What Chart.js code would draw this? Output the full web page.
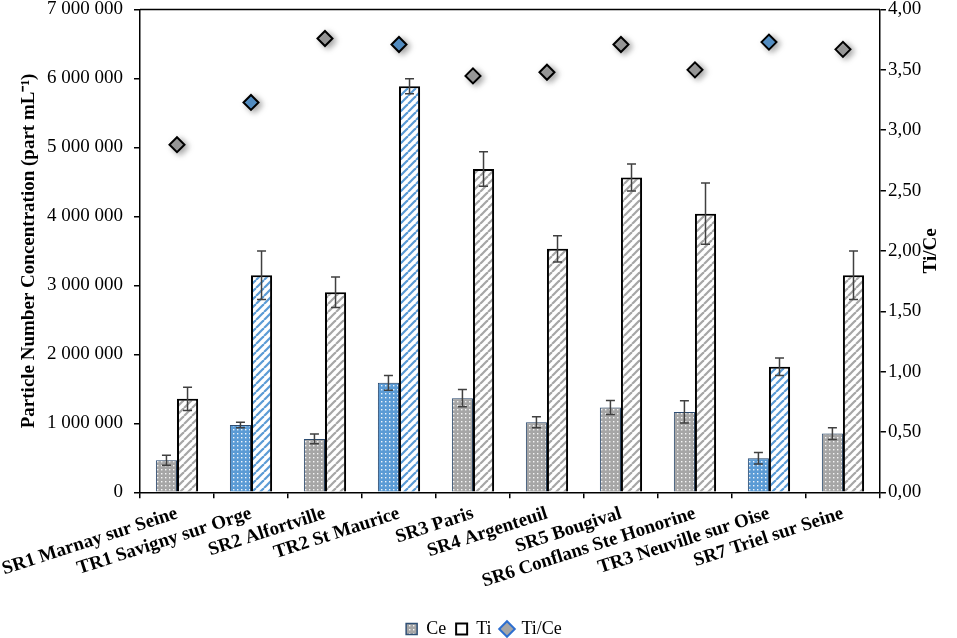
<!DOCTYPE html>
<html>
<head>
<meta charset="utf-8">
<script src="https://cdn.jsdelivr.net/npm/chart.js@4.4.0/dist/chart.umd.min.js"></script>
<style>
html, body { margin: 0; padding: 0; background: #fff; }
#wrap { width: 957px; height: 638px; }
</style>
</head>
<body>
<div id="wrap"><canvas id="c"></canvas></div>
<script>
// sampling sites
const sites = ['SR1 Marnay sur Seine', 'TR1 Savigny sur Orge', 'SR2 Alfortville', 'TR2 St Maurice',
    'SR3 Paris', 'SR4 Argenteuil', 'SR5 Bougival', 'SR6 Conflans Ste Honorine',
    'TR3 Neuville sur Oise', 'SR7 Triel sur Seine'];

// particle number concentrations (part mL-1) and their error bars
const ceValues = [465000, 977000, 774000, 1587000, 1365000, 1017000, 1230000, 1166000, 494000, 852000];
const ceErrors = [73000, 40000, 70000, 106000, 126000, 80000, 100000, 160000, 85000, 85000];
const tiValues = [1355000, 3147000, 2900000, 5886000, 4686000, 3530000, 4565000, 4040000, 1820000, 3147000];
const tiErrors = [170000, 350000, 220000, 109000, 250000, 190000, 195000, 443000, 128000, 350000];

// Ti/Ce ratio (right axis)
const ratioValues = [2.88, 3.23, 3.76, 3.71, 3.45, 3.48, 3.71, 3.50, 3.73, 3.67];

const GRAY = '#a6a6a6';
const BLUE = '#5b9bd5';
const FONT = "'Liberation Serif','Times New Roman',serif";

Chart.defaults.color = '#000';
Chart.defaults.font.family = FONT;

function dotPattern(bg) {
    const c = document.createElement('canvas');
    c.width = 4; c.height = 4;
    const g = c.getContext('2d');
    g.fillStyle = bg;
    g.fillRect(0, 0, 4, 4);
    g.fillStyle = 'rgba(255,255,255,0.9)';
    g.fillRect(1, 1, 1.4, 1.4);
    return g.createPattern(c, 'repeat');
}

function stripePattern(color) {
    const s = 8;
    const c = document.createElement('canvas');
    c.width = s; c.height = s;
    const g = c.getContext('2d');
    g.fillStyle = '#fff';
    g.fillRect(0, 0, s, s);
    g.strokeStyle = color;
    g.lineWidth = 2.2;
    for (const k of [-s, 0, s]) {
        g.beginPath();
        g.moveTo(k, s);
        g.lineTo(k + s, 0);
        g.stroke();
    }
    return g.createPattern(c, 'repeat');
}

const isTR = sites.map(s => s.startsWith('TR'));
const dotGray = dotPattern(GRAY), dotBlue = dotPattern(BLUE);
const stripeGray = stripePattern(GRAY), stripeBlue = stripePattern(BLUE);

const fmtSpace = v => String(v).replace(/\B(?=(\d{3})+(?!\d))/g, ' ');
const fmtComma = v => v.toFixed(2).replace('.', ',');

// drop shadows + error bars + top border + right title
const decor = {
    id: 'decor',
    beforeDatasetDraw(chart, args) {
        const ctx = chart.ctx;
        ctx.save();
        ctx.shadowColor = 'rgba(0,0,0,0.35)';
        ctx.shadowBlur = 6;
        ctx.shadowOffsetX = 3;
        ctx.shadowOffsetY = 2;
    },
    afterDatasetDraw(chart, args) {
        const ctx = chart.ctx;
        ctx.restore();
        const ds = chart.data.datasets[args.index];
        if (!ds.errors) return;
        const y = chart.scales.y;
        ctx.save();
        ctx.strokeStyle = '#404040';
        ctx.lineWidth = 1.5;
        args.meta.data.forEach((bar, i) => {
            const v = ds.data[i], e = ds.errors[i];
            const top = y.getPixelForValue(v + e), bot = y.getPixelForValue(v - e);
            ctx.beginPath();
            ctx.moveTo(bar.x, top); ctx.lineTo(bar.x, bot);
            ctx.moveTo(bar.x - 4.5, top); ctx.lineTo(bar.x + 4.5, top);
            ctx.moveTo(bar.x - 4.5, bot); ctx.lineTo(bar.x + 4.5, bot);
            ctx.stroke();
        });
        ctx.restore();
    },
    afterDraw(chart) {
        const ctx = chart.ctx;
        const a = chart.chartArea;
        ctx.save();
        ctx.strokeStyle = '#000';
        ctx.lineWidth = 1.5;
        ctx.beginPath();
        ctx.moveTo(a.left, a.top); ctx.lineTo(a.right, a.top);
        ctx.stroke();
        const y1 = chart.scales.y1;
        ctx.translate(y1.right - 19, (a.top + a.bottom) / 2);
        ctx.rotate(-Math.PI / 2);
        ctx.font = 'bold 19px ' + FONT;
        ctx.fillStyle = '#000';
        ctx.textAlign = 'center';
        ctx.textBaseline = 'middle';
        ctx.fillText('Ti/Ce', 0, 0);
        ctx.restore();
    }
};

new Chart(document.getElementById('c'), {
    type: 'bar',
    data: {
        labels: sites,
        datasets: [
            {
                label: 'Ce',
                data: ceValues,
                errors: ceErrors,
                yAxisID: 'y',
                backgroundColor: isTR.map(t => t ? dotBlue : dotGray),
                borderColor: '#2f4f75',
                borderWidth: 1,
                categoryPercentage: 0.57,
                barPercentage: 1,
                order: 1,
            },
            {
                label: 'Ti',
                data: tiValues,
                errors: tiErrors,
                yAxisID: 'y',
                backgroundColor: isTR.map(t => t ? stripeBlue : stripeGray),
                borderColor: '#000',
                borderWidth: 2,
                categoryPercentage: 0.57,
                barPercentage: 1,
                order: 2,
            },
            {
                label: 'Ti/Ce',
                type: 'line',
                data: ratioValues,
                yAxisID: 'y1',
                showLine: false,
                pointStyle: 'rectRot',
                pointRadius: 7.5,
                pointHoverRadius: 7.5,
                pointBorderWidth: 2,
                pointBorderColor: '#000',
                pointBackgroundColor: isTR.map(t => t ? BLUE : GRAY),
                order: 0,
            },
        ],
    },
    options: {
        responsive: true,
        maintainAspectRatio: false,
        animation: false,
        layout: { padding: { left: 18, right: 7, top: 0, bottom: -10 } },
        plugins: {
            tooltip: { enabled: false },
            legend: {
                position: 'bottom',
                labels: {
                    usePointStyle: true,
                    boxWidth: 11,
                    boxHeight: 11,
                    padding: 10,
                    font: { size: 18, family: FONT },
                    generateLabels: () => [
                        { text: 'Ce', fillStyle: dotGray, strokeStyle: '#2f4f75', lineWidth: 1.5, pointStyle: 'rect' },
                        { text: 'Ti', fillStyle: '#fff', strokeStyle: '#000', lineWidth: 2, pointStyle: 'rect' },
                        { text: 'Ti/Ce', fillStyle: GRAY, strokeStyle: '#2e6fd0', lineWidth: 2, pointStyle: 'rectRot' },
                    ],
                },
            },
        },
        scales: {
            x: {
                grid: { display: true, drawOnChartArea: false, tickLength: 6, color: '#000', lineWidth: 1.5 },
                border: { color: '#000', width: 1.5 },
                ticks: {
                    minRotation: 18,
                    maxRotation: 18,
                    autoSkip: false,
                    padding: 4,
                    font: { size: 19, weight: 'bold', family: FONT },
                },
                afterFit: s => { s.paddingLeft = 0; s.height += 13; },
            },
            y: {
                position: 'left',
                min: 0,
                max: 7000000,
                grid: { display: true, drawOnChartArea: false, tickLength: 6, color: '#000', lineWidth: 1.5 },
                border: { color: '#000', width: 1.5 },
                ticks: { stepSize: 1000000, callback: fmtSpace, font: { size: 19, family: FONT }, padding: 11 },
                title: {
                    display: true,
                    text: 'Particle Number Concentration (part mL\u207B\u00B9)',
                    font: { size: 19, weight: 'bold', family: FONT },
                    padding: { top: 0, bottom: 6 },
                },
                afterFit: s => { s.paddingTop = 9; s.width = 122; },
            },
            y1: {
                position: 'right',
                min: 0,
                max: 4,
                grid: { display: true, drawOnChartArea: false, tickLength: 6, color: '#000', lineWidth: 1.5 },
                border: { color: '#000', width: 1.5 },
                ticks: { stepSize: 0.5, callback: fmtComma, font: { size: 19, family: FONT }, padding: 2 },
                title: {
                    display: true,
                    text: 'Ti/Ce',
                    color: 'rgba(0,0,0,0)',
                    font: { size: 19, weight: 'bold', family: FONT },
                    padding: { top: 4, bottom: 0 },
                },
                afterFit: s => { s.paddingTop = 9; },
            },
        },
    },
    plugins: [decor],
});
</script>
</body>
</html>
